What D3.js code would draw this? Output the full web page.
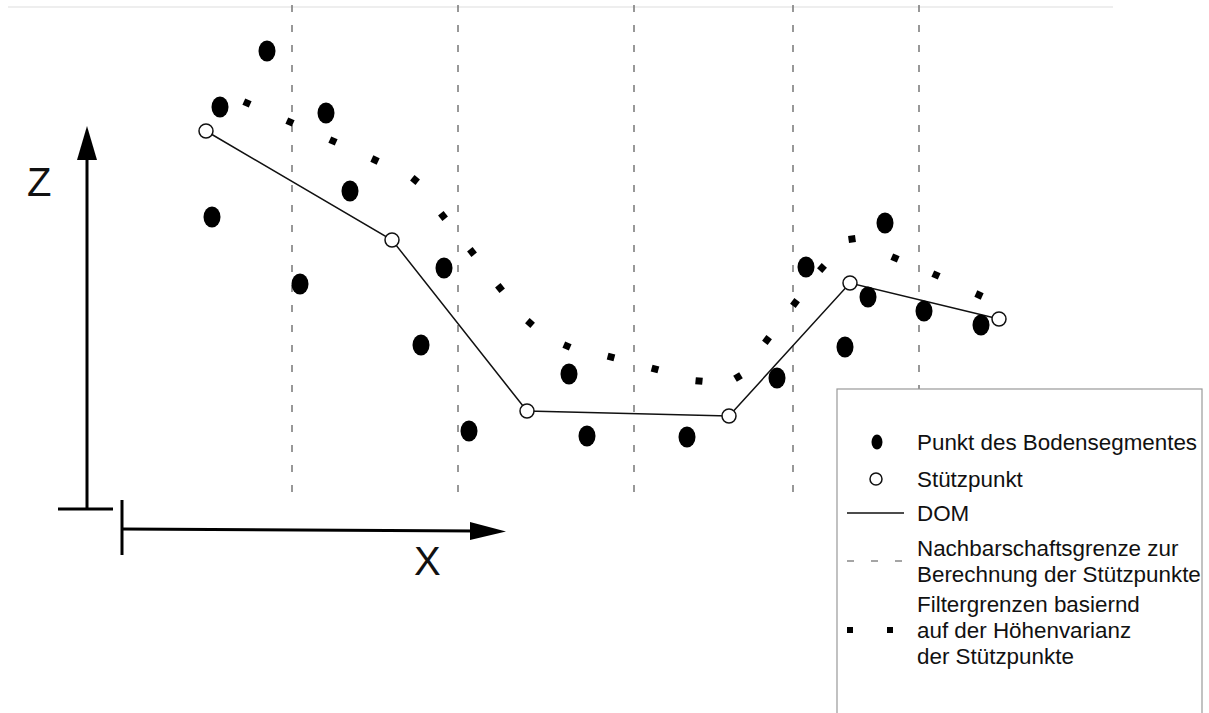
<!DOCTYPE html>
<html>
<head>
<meta charset="utf-8">
<script src="https://cdn.jsdelivr.net/npm/d3@7"></script>
<style>
  body { margin: 0; background: #fff; }
  svg text { font-family: "Liberation Sans", Arial, sans-serif; fill: #111; }
</style>
</head>
<body>
<script>
// ground segment points (x, z)
const groundX = [14.5, 9.8, 20.4, 9.0, 22.8, 17.8, 32.2, 29.9, 34.7, 44.7, 46.5, 56.5, 65.5, 68.4, 72.3, 74.6, 76.3, 80.2, 85.9];
const groundZ = [45.8, 40.2, 39.6, 29.2, 31.8, 22.5, 24.1, 16.4, 7.8, 13.5, 7.3, 7.2, 13.1, 24.2, 16.2, 21.2, 28.6, 19.8, 18.4];

// support points, joined by the DOM line
const supportX = [8.4, 27.0, 40.5, 60.7, 72.8, 87.7];
const supportZ = [37.8, 26.9, 9.8, 9.3, 22.6, 19.0];

// filter limit (height variance) markers
const filterX = [12.5, 16.8, 21.1, 25.3, 29.3, 32.1, 35.0, 37.8, 40.8, 44.5, 48.9, 53.3, 57.7, 61.6, 64.5, 67.3, 70.0, 73.0, 77.3, 81.4, 85.7];
const filterZ = [40.6, 38.7, 36.8, 34.9, 32.9, 29.3, 25.7, 22.1, 18.6, 16.3, 15.2, 14.0, 12.8, 13.2, 16.9, 20.6, 24.1, 27.0, 25.1, 23.4, 21.4];

// neighbourhood borders
const borderX = [17.0, 33.6, 51.2, 67.1, 79.7];

const legendLabels = [
  ["Punkt des Bodensegmentes"],
  ["Stützpunkt"],
  ["DOM"],
  ["Nachbarschaftsgrenze zur", "Berechnung der Stützpunkte"],
  ["Filtergrenzen basiernd", "auf der Höhenvarianz", "der Stützpunkte"]
];

const width = 1209;
const height = 713;

const svg = d3.select("body")
  .append("svg")
  .attr("width", width)
  .attr("height", height);

const x = d3.scaleLinear().domain([0, 100]).range([122, 1122]);
const z = d3.scaleLinear().domain([0, 50]).range([509, 9]);

// faint top rule
svg.append("line")
  .attr("x1", x(-11.4)).attr("x2", x(99.1))
  .attr("y1", z(50.2)).attr("y2", z(50.2))
  .attr("stroke", "#eeeeee")
  .attr("stroke-width", 2);

// dashed neighbourhood borders
svg.selectAll(".border")
  .data(borderX)
  .enter()
  .append("line")
  .attr("class", "border")
  .attr("x1", d => x(d)).attr("x2", d => x(d))
  .attr("y1", z(50.4)).attr("y2", z(0.9))
  .attr("stroke", "#777")
  .attr("stroke-width", 1.5)
  .attr("stroke-dasharray", "7,13");

// DOM line
const support = supportX.map((d, i) => [d, supportZ[i]]);
svg.append("path")
  .datum(support)
  .attr("fill", "none")
  .attr("stroke", "#111")
  .attr("stroke-width", 1.5)
  .attr("d", d3.line().x(d => x(d[0])).y(d => z(d[1])));

// filter markers, turned along the run of the markers
const filter = filterX.map((d, i) => [d, filterZ[i]]);
const angle = i => {
  const a = filter[Math.max(0, i - 1)];
  const b = filter[Math.min(filter.length - 1, i + 1)];
  return Math.atan2(z(b[1]) - z(a[1]), x(b[0]) - x(a[0])) * 180 / Math.PI;
};
svg.selectAll(".filter")
  .data(filter)
  .enter()
  .append("rect")
  .attr("class", "filter")
  .attr("x", -3.5).attr("y", -3.5)
  .attr("width", 7).attr("height", 7)
  .attr("fill", "#000")
  .attr("transform", (d, i) => "translate(" + x(d[0]) + "," + z(d[1]) + ") rotate(" + angle(i) + ")");

// ground points
svg.selectAll(".ground")
  .data(groundX.map((d, i) => [d, groundZ[i]]))
  .enter()
  .append("ellipse")
  .attr("class", "ground")
  .attr("cx", d => x(d[0]))
  .attr("cy", d => z(d[1]))
  .attr("rx", 8.5)
  .attr("ry", 10.5)
  .attr("fill", "#000");

// support points
svg.selectAll(".support")
  .data(support)
  .enter()
  .append("circle")
  .attr("class", "support")
  .attr("cx", d => x(d[0]))
  .attr("cy", d => z(d[1]))
  .attr("r", 7)
  .attr("fill", "#fff")
  .attr("stroke", "#111")
  .attr("stroke-width", 1.5);

// Z axis
svg.append("line")
  .attr("x1", x(-3.5)).attr("x2", x(-3.5))
  .attr("y1", z(0)).attr("y2", z(35.5))
  .attr("stroke", "#000").attr("stroke-width", 3);
svg.append("line")
  .attr("x1", x(-6.4)).attr("x2", x(-0.9))
  .attr("y1", z(0)).attr("y2", z(0))
  .attr("stroke", "#000").attr("stroke-width", 3);
svg.append("path")
  .attr("d", "M" + x(-3.5) + "," + z(38.3) + "L" + (x(-3.5) + 10) + "," + z(34.9) + "L" + (x(-3.5) - 10) + "," + z(34.9) + "Z")
  .attr("fill", "#000");
svg.append("text")
  .attr("x", 27).attr("y", 196)
  .style("font-size", "40px")
  .text("Z");

// X axis
svg.append("line")
  .attr("x1", x(0)).attr("x2", x(0))
  .attr("y1", z(0.9)).attr("y2", z(-4.6))
  .attr("stroke", "#000").attr("stroke-width", 3);
svg.append("line")
  .attr("x1", x(0)).attr("x2", x(35.5))
  .attr("y1", z(-2.0)).attr("y2", z(-2.2))
  .attr("stroke", "#000").attr("stroke-width", 3);
svg.append("path")
  .attr("d", "M" + x(38.4) + "," + z(-2.25) + "L" + x(34.8) + "," + (z(-2.2) - 9) + "L" + x(34.8) + "," + (z(-2.2) + 9) + "Z")
  .attr("fill", "#000");
svg.append("text")
  .attr("x", 414).attr("y", 575)
  .style("font-size", "40px")
  .text("X");

// legend
const legend = svg.append("g").attr("transform", "translate(837,389)");
legend.append("rect")
  .attr("x", 0).attr("y", 0)
  .attr("width", 365).attr("height", 360)
  .attr("fill", "#fff")
  .attr("stroke", "#999")
  .attr("stroke-width", 1.2);

const rowY = [53, 90, 124, 172, 241];
legend.append("ellipse").attr("cx", 40).attr("cy", rowY[0]).attr("rx", 5.5).attr("ry", 7.5).attr("fill", "#000");
legend.append("circle").attr("cx", 39).attr("cy", rowY[1]).attr("r", 6)
  .attr("fill", "#fff").attr("stroke", "#111").attr("stroke-width", 1.5);
legend.append("line").attr("x1", 10).attr("x2", 67).attr("y1", rowY[2]).attr("y2", rowY[2])
  .attr("stroke", "#111").attr("stroke-width", 1.5);
legend.append("line").attr("x1", 10).attr("x2", 67).attr("y1", rowY[3]).attr("y2", rowY[3])
  .attr("stroke", "#888").attr("stroke-width", 1.5).attr("stroke-dasharray", "7,17");
legend.selectAll(".sq")
  .data([13, 53])
  .enter()
  .append("rect")
  .attr("class", "sq")
  .attr("x", d => d - 3).attr("y", rowY[4] - 3)
  .attr("width", 6).attr("height", 6)
  .attr("fill", "#000");

legend.selectAll(".entry")
  .data(legendLabels)
  .enter()
  .append("text")
  .attr("class", "entry")
  .attr("x", 80)
  .attr("y", (d, i) => rowY[i] - (d.length - 1) * 13 + 8)
  .style("font-size", "22.4px")
  .each(function (d) {
    d3.select(this).selectAll("tspan")
      .data(d)
      .enter()
      .append("tspan")
      .attr("x", 80)
      .attr("dy", (t, j) => j === 0 ? 0 : 26)
      .text(t => t);
  });
</script>
</body>
</html>
